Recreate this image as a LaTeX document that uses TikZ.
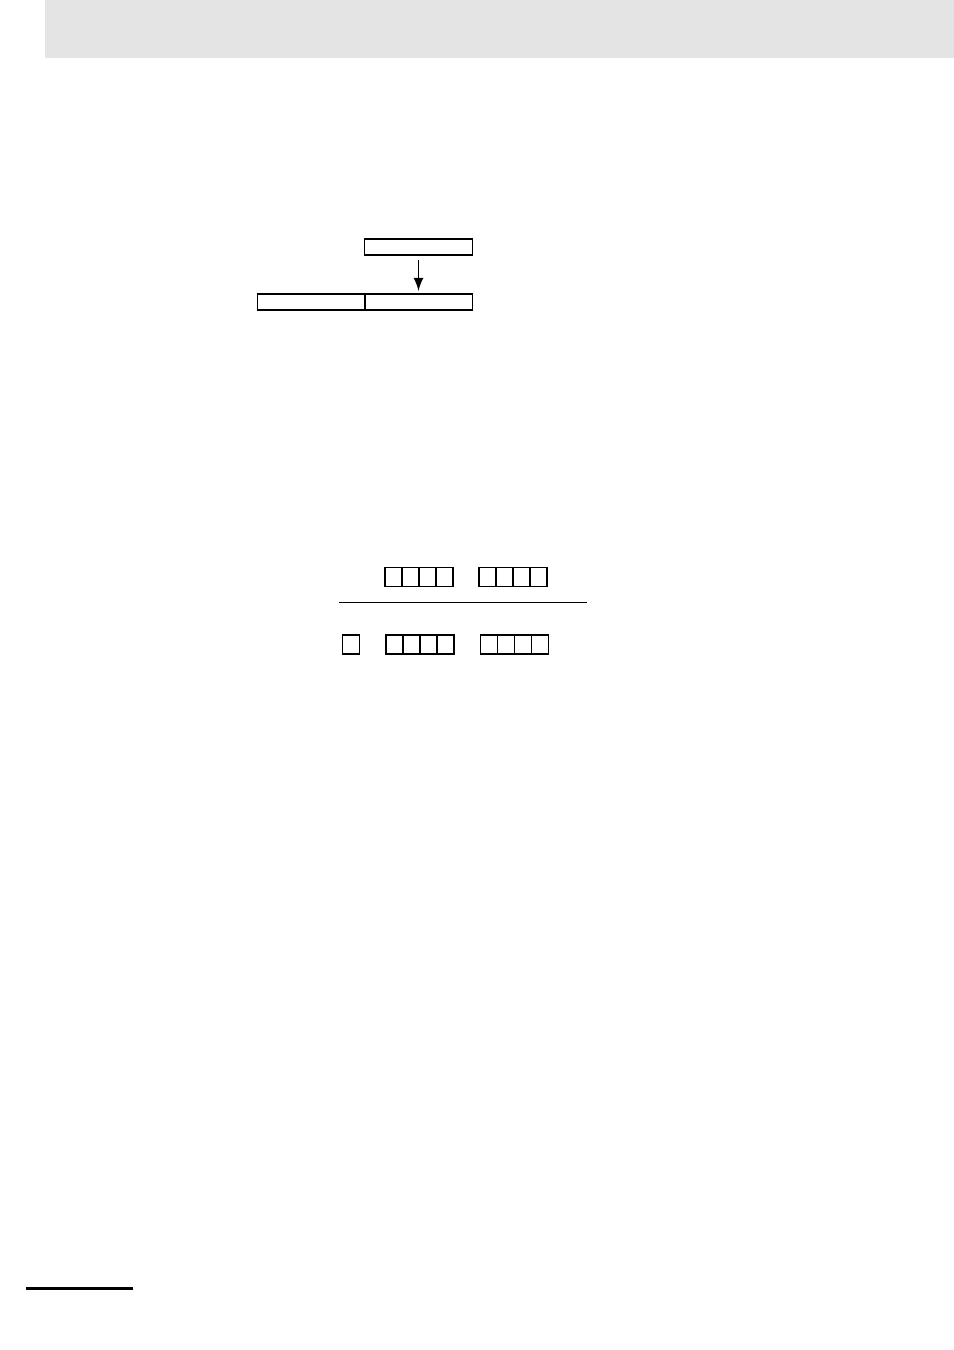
\documentclass[tikz,border=0pt]{standalone}
\usetikzlibrary{arrows}
\definecolor{headgray}{HTML}{E4E4E4}
\tikzset{
  word/.style={draw, line width=0.3pt, minimum width=1.07cm, minimum height=0.16cm, inner sep=0pt, outer sep=0pt},
  cell/.style={draw, line width=0.3pt, minimum width=0.17cm, minimum height=0.19cm, inner sep=0pt, outer sep=0pt}
}
\begin{document}
\begin{tikzpicture}[x=0.01cm,y=-0.01cm]
\useasboundingbox (0,0) rectangle (954,1350);
\fill[headgray] (45,0) rectangle (954,58);
\node[word](Src)at(418.5,247){};
\node[word](DstL)at(311.5,302){};
\node[word](DstR)at(418.5,302){};
\draw[-latex, line width=0.3pt, shorten <=0.05cm, shorten >=0.03cm](Src.south)--(DstR.north);
\foreach \i in {0,...,3}{
  \node[cell](A\i)at(393.5+17*\i,577){};
  \node[cell](B\i)at(487.5+17*\i,577){};
  \node[cell](D\i)at(394.5+17*\i,644.5){};
  \node[cell](E\i)at(489+17*\i,644.5){};
}
\node[cell](C)at(351,644.5){};
\draw[line width=0.35pt](339,602.3)--(587,602.3);
\draw[line width=0.7pt](26,1288.7)--(133,1288.7);
\end{tikzpicture}
\end{document}
